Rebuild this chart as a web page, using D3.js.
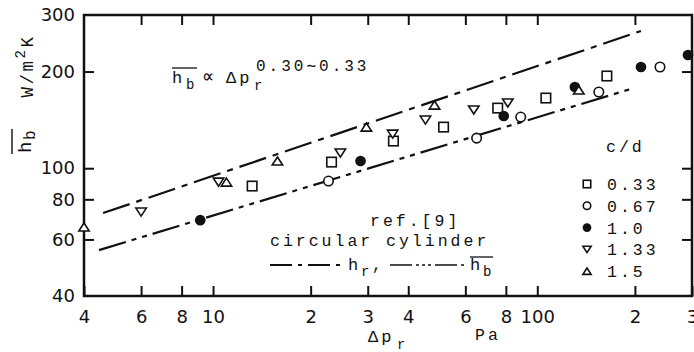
<!DOCTYPE html>
<html>
<head>
<meta charset="utf-8">
<script src="https://cdn.jsdelivr.net/npm/d3@7/dist/d3.min.js"></script>
<style>
  html, body { margin: 0; padding: 0; background: #fff; }
  svg { display: block; }
  .mono { font-family: "Liberation Mono", "DejaVu Sans Mono", monospace; fill: #111; }
  .tick text { font-family: "DejaVu Sans", sans-serif; font-size: 18px; fill: #111; }
  .tick line { stroke: #111; stroke-width: 2; }
</style>
</head>
<body>
<script>
// Axis ticks and their printed labels (log axes, abbreviated decades)
const xTicks = [4, 6, 8, 10, 20, 30, 40, 60, 80, 100, 200, 300];
const xTickLabels = ["4", "6", "8", "10", "2", "3", "4", "6", "8", "100", "2", "3"];
const yTicks = [40, 60, 80, 100, 200, 300];
const yTickLabels = ["40", "60", "80", "100", "200", "300"];

// Measured mean heat transfer coefficient vs. pressure drop, by c/d ratio
const cd033 = [[13.2, 88.0], [23.2, 104.5], [36.0, 121.5], [51.4, 134.3], [75.5, 153.9], [106.3, 165.4], [163.9, 193.7]];
const cd067 = [[22.7, 91.2], [65.0, 124.1], [88.9, 144.3], [154.8, 172.7], [239, 206.6]];
const cd100 = [[9.13, 68.9], [28.5, 105.3], [78.8, 145.4], [130.6, 179.0], [208.8, 206.6], [291.6, 225.2]];
const cd133 = [[6.0, 73.0], [10.4, 90.5], [24.7, 111.5], [35.8, 127.7], [45.2, 141.2], [63.7, 151.8], [81.1, 159.6]];
const cd150 = [[4.0, 65.6], [11.0, 90.5], [15.8, 105.3], [29.7, 134.3], [48.2, 157.3], [134.3, 175.2]];

// Reference correlations for a circular cylinder (ref. [9])
const hrLine = [[4.58, 72.5], [208.8, 267.5]];
const hbLine = [[4.45, 55.6], [198.6, 177.7]];

const legendLabels = ["0.33", "0.67", "1.0", "1.33", "1.5"];
const legendShapes = ["square", "circle", "dot", "tdown", "tup"];

const W = 694, H = 352;
const mL = 84, mR = 692, mT = 15, mB = 296;

const svg = d3.select("body").append("svg").attr("width", W).attr("height", H);

const x = d3.scaleLog().domain([4, 300]).range([mL, mR]);
const y = d3.scaleLog().domain([40, 300]).range([mB, mT]);

// Axes with inward ticks
const inner = xTicks.slice(1, -1);
const innerY = yTicks.slice(1, -1);

svg.append("g").attr("transform", `translate(0,${mB})`)
  .call(d3.axisBottom(x).tickValues(xTicks).tickFormat((d, i) => xTickLabels[i])
    .tickSizeInner(-10).tickSizeOuter(0).tickPadding(14))
  .call(g => g.select(".domain").remove());

svg.append("g").attr("transform", `translate(0,${mT})`)
  .call(d3.axisTop(x).tickValues(inner).tickFormat("").tickSizeInner(-10).tickSizeOuter(0))
  .call(g => g.select(".domain").remove());

svg.append("g").attr("transform", `translate(${mL},0)`)
  .call(d3.axisLeft(y).tickValues(yTicks).tickFormat((d, i) => yTickLabels[i])
    .tickSizeInner(-10).tickSizeOuter(0).tickPadding(9))
  .call(g => g.select(".domain").remove())
  .call(g => g.selectAll(".tick line").filter(d => d === 40 || d === 300).remove());

svg.append("g").attr("transform", `translate(${mR},0)`)
  .call(d3.axisRight(y).tickValues(innerY).tickFormat("").tickSizeInner(-10).tickSizeOuter(0))
  .call(g => g.select(".domain").remove());

// Frame
svg.append("rect")
  .attr("x", mL).attr("y", mT)
  .attr("width", mR - mL).attr("height", mB - mT)
  .attr("fill", "none").attr("stroke", "#111").attr("stroke-width", 2.5);

// Correlation lines
const line = d3.line().x(d => x(d[0])).y(d => y(d[1]));
svg.append("path").datum(hrLine).attr("d", line)
  .attr("fill", "none").attr("stroke", "#111").attr("stroke-width", 2.2)
  .attr("stroke-dasharray", "28,7,6,7");
svg.append("path").datum(hbLine).attr("d", line)
  .attr("fill", "none").attr("stroke", "#111").attr("stroke-width", 2.2)
  .attr("stroke-dasharray", "28,6,5,6,5,6");

// Marker drawing
function marker(g, shape, cx, cy, s) {
  const sw = 1.6;
  if (shape === "square") {
    g.append("rect").attr("x", cx - s / 2).attr("y", cy - s / 2).attr("width", s).attr("height", s)
      .attr("fill", "#fff").attr("stroke", "#111").attr("stroke-width", sw);
  } else if (shape === "circle") {
    g.append("circle").attr("cx", cx).attr("cy", cy).attr("r", s / 2)
      .attr("fill", "#fff").attr("stroke", "#111").attr("stroke-width", sw);
  } else if (shape === "dot") {
    g.append("circle").attr("cx", cx).attr("cy", cy).attr("r", s / 2 + 0.6)
      .attr("fill", "#111");
  } else {
    const h = s * 0.85, w = s * 0.55;
    const pts = shape === "tup"
      ? [[cx, cy - h / 2], [cx + w, cy + h / 2], [cx - w, cy + h / 2]]
      : [[cx, cy + h / 2], [cx + w, cy - h / 2], [cx - w, cy - h / 2]];
    g.append("path").attr("d", "M" + pts.map(p => p.join(",")).join("L") + "Z")
      .attr("fill", "#fff").attr("stroke", "#111").attr("stroke-width", sw)
      .attr("stroke-linejoin", "miter");
  }
}

const series = [
  { data: cd033, shape: "square" },
  { data: cd067, shape: "circle" },
  { data: cd100, shape: "dot" },
  { data: cd133, shape: "tdown" },
  { data: cd150, shape: "tup" }
];
const pts = svg.append("g");
series.forEach(s => s.data.forEach(d => marker(pts, s.shape, x(d[0]), y(d[1]), 9.5)));

// Legend (c/d)
const lg = svg.append("g");
lg.append("text").attr("class", "mono").attr("x", 606).attr("y", 152)
  .attr("font-size", 16.5).attr("letter-spacing", 3).text("c/d");
legendLabels.forEach((lab, i) => {
  const yy = 184 + i * 21.8;
  marker(lg, legendShapes[i], 587, yy, 7.5);
  lg.append("text").attr("class", "mono").attr("x", 607).attr("y", yy + 6)
    .attr("font-size", 16.5).attr("letter-spacing", 3).text(lab);
});

// Helper for plain mono text
function mtext(tx, ty, str, size, anchor) {
  return svg.append("text").attr("class", "mono").attr("x", tx).attr("y", ty)
    .attr("font-size", size || 16.5).attr("letter-spacing", 3)
    .attr("text-anchor", anchor || "start").text(str);
}
function overline(x1, x2, yy) {
  svg.append("line").attr("x1", x1).attr("x2", x2).attr("y1", yy).attr("y2", yy)
    .attr("stroke", "#111").attr("stroke-width", 1.3);
}

// Proportionality note
mtext(172, 83, "h", 17);
mtext(186, 89, "b", 14);
overline(172, 197, 68);
mtext(202, 83, "\u221D", 20);
mtext(226, 83, "\u0394p", 17);
mtext(254, 90, "r", 14);
mtext(256, 71, "0.30\u223C0.33", 16);

// Reference note and line-style key
mtext(370, 226, "ref.[9]");
mtext(270, 246, "circular cylinder");
svg.append("line").attr("x1", 270).attr("x2", 344).attr("y1", 265).attr("y2", 265)
  .attr("stroke", "#111").attr("stroke-width", 2).attr("stroke-dasharray", "22,6,4,6");
mtext(348, 270, "h", 17);
mtext(361, 276, "r", 14);
mtext(372, 270, ",", 16);
svg.append("line").attr("x1", 390).attr("x2", 467).attr("y1", 265).attr("y2", 265)
  .attr("stroke", "#111").attr("stroke-width", 1.6).attr("stroke-dasharray", "22,4,3,3,3,3,3,4");
mtext(470, 270, "h", 17);
mtext(483, 276, "b", 14);
overline(470, 493, 257);

// Axis titles
mtext(368, 342, "\u0394p", 17);
mtext(397, 349, "r", 14);
mtext(475, 340, "Pa", 16.5);

const yt = svg.append("g").attr("transform", "translate(33,0)");
const t1 = yt.append("text").attr("class", "mono").attr("transform", "translate(0,66) rotate(-90)")
  .attr("text-anchor", "middle").attr("font-size", 17.5).attr("letter-spacing", 2.5);
t1.append("tspan").text("W/m");
t1.append("tspan").attr("dy", -8).attr("font-size", 14).text("2");
t1.append("tspan").attr("dy", 8).text("K");

const hb = yt.append("g").attr("transform", "translate(-2,141) rotate(-90)");
hb.append("text").attr("class", "mono").attr("x", -12).attr("y", 0).attr("font-size", 19).text("h");
hb.append("text").attr("class", "mono").attr("x", 1).attr("y", 4).attr("font-size", 16).text("b");
hb.append("line").attr("x1", -13).attr("x2", 12).attr("y1", -19).attr("y2", -19)
  .attr("stroke", "#111").attr("stroke-width", 1.4);
</script>
</body>
</html>
